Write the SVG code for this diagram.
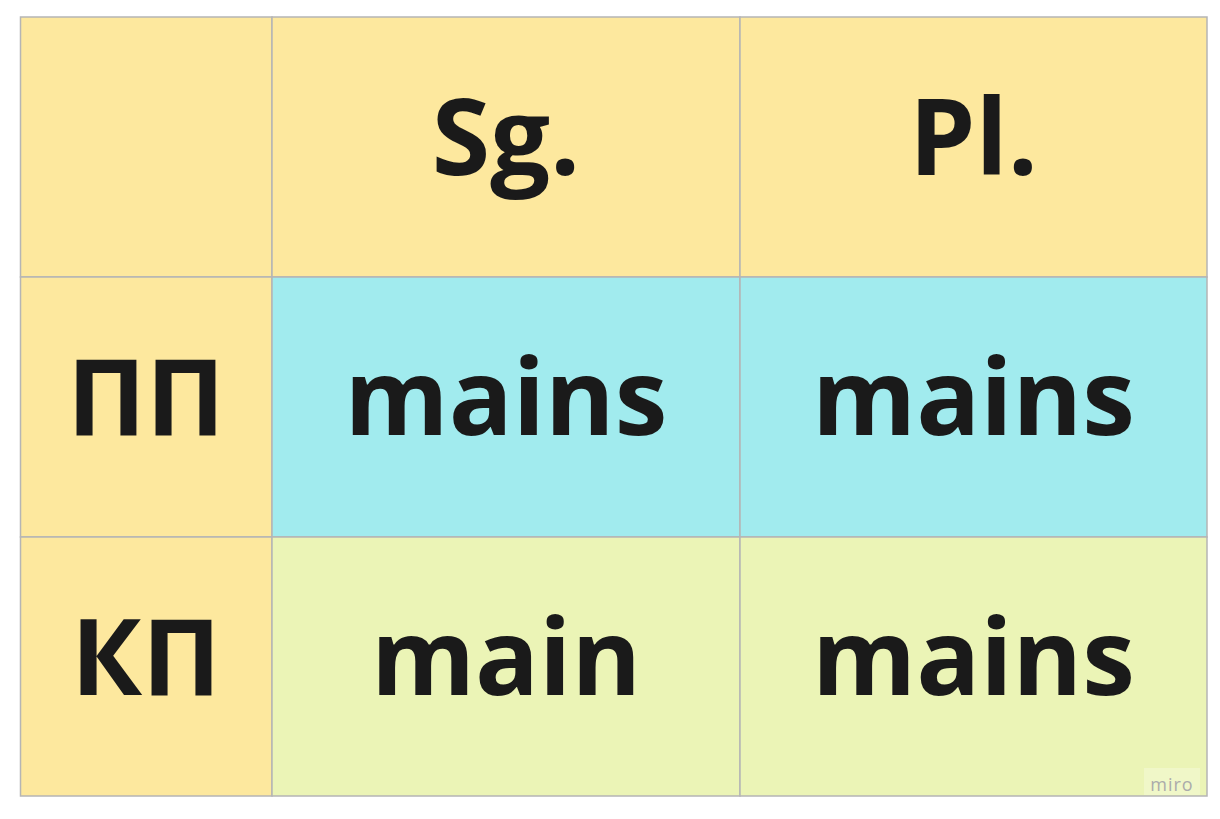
<svg xmlns="http://www.w3.org/2000/svg" width="1220" height="819" viewBox="0 0 1220 819">
<style>
.c{stroke:#b5b5b5;stroke-width:1.5}
.h{fill:#fde89e}
.b{fill:#a1ebee}
.g{fill:#ebf4b6}
.t{font-family:"Open Sans","DejaVu Sans",sans-serif;font-weight:700;font-size:106px;fill:#1a1a1a;text-anchor:middle}
.w{font-family:"Open Sans","DejaVu Sans",sans-serif;font-size:18px;fill:#ababab;text-anchor:middle;letter-spacing:1px}
</style>
<rect width="1220" height="819" fill="#ffffff"/>
<g id="cell-corner"><rect class="c h" x="20.5" y="17" width="251.5" height="260"/></g>
<g id="cell-sg"><rect class="c h" x="272" y="17" width="468" height="260"/><text class="t" x="506" y="175">Sg.</text></g>
<g id="cell-pl"><rect class="c h" x="740" y="17" width="467" height="260"/><text class="t" x="973.5" y="175">Pl.</text></g>
<g id="cell-pp"><rect class="c h" x="20.5" y="277" width="251.5" height="260"/><text class="t" x="146" y="435">ПП</text></g>
<g id="cell-pp-sg"><rect class="c b" x="272" y="277" width="468" height="260"/><text class="t" x="506" y="435">mains</text></g>
<g id="cell-pp-pl"><rect class="c b" x="740" y="277" width="467" height="260"/><text class="t" x="973.5" y="435">mains</text></g>
<g id="cell-kp"><rect class="c h" x="20.5" y="537" width="251.5" height="259"/><text class="t" x="146" y="695">КП</text></g>
<g id="cell-kp-sg"><rect class="c g" x="272" y="537" width="468" height="259"/><text class="t" x="506" y="695">main</text></g>
<g id="cell-kp-pl"><rect class="c g" x="740" y="537" width="467" height="259"/><text class="t" x="973.5" y="695">mains</text></g>
<g id="watermark"><rect x="1144" y="768" width="56" height="27" fill="#ffffff" fill-opacity="0.25"/><text class="w" x="1172" y="791">miro</text></g>
<g id="connectors"></g>
</svg>
